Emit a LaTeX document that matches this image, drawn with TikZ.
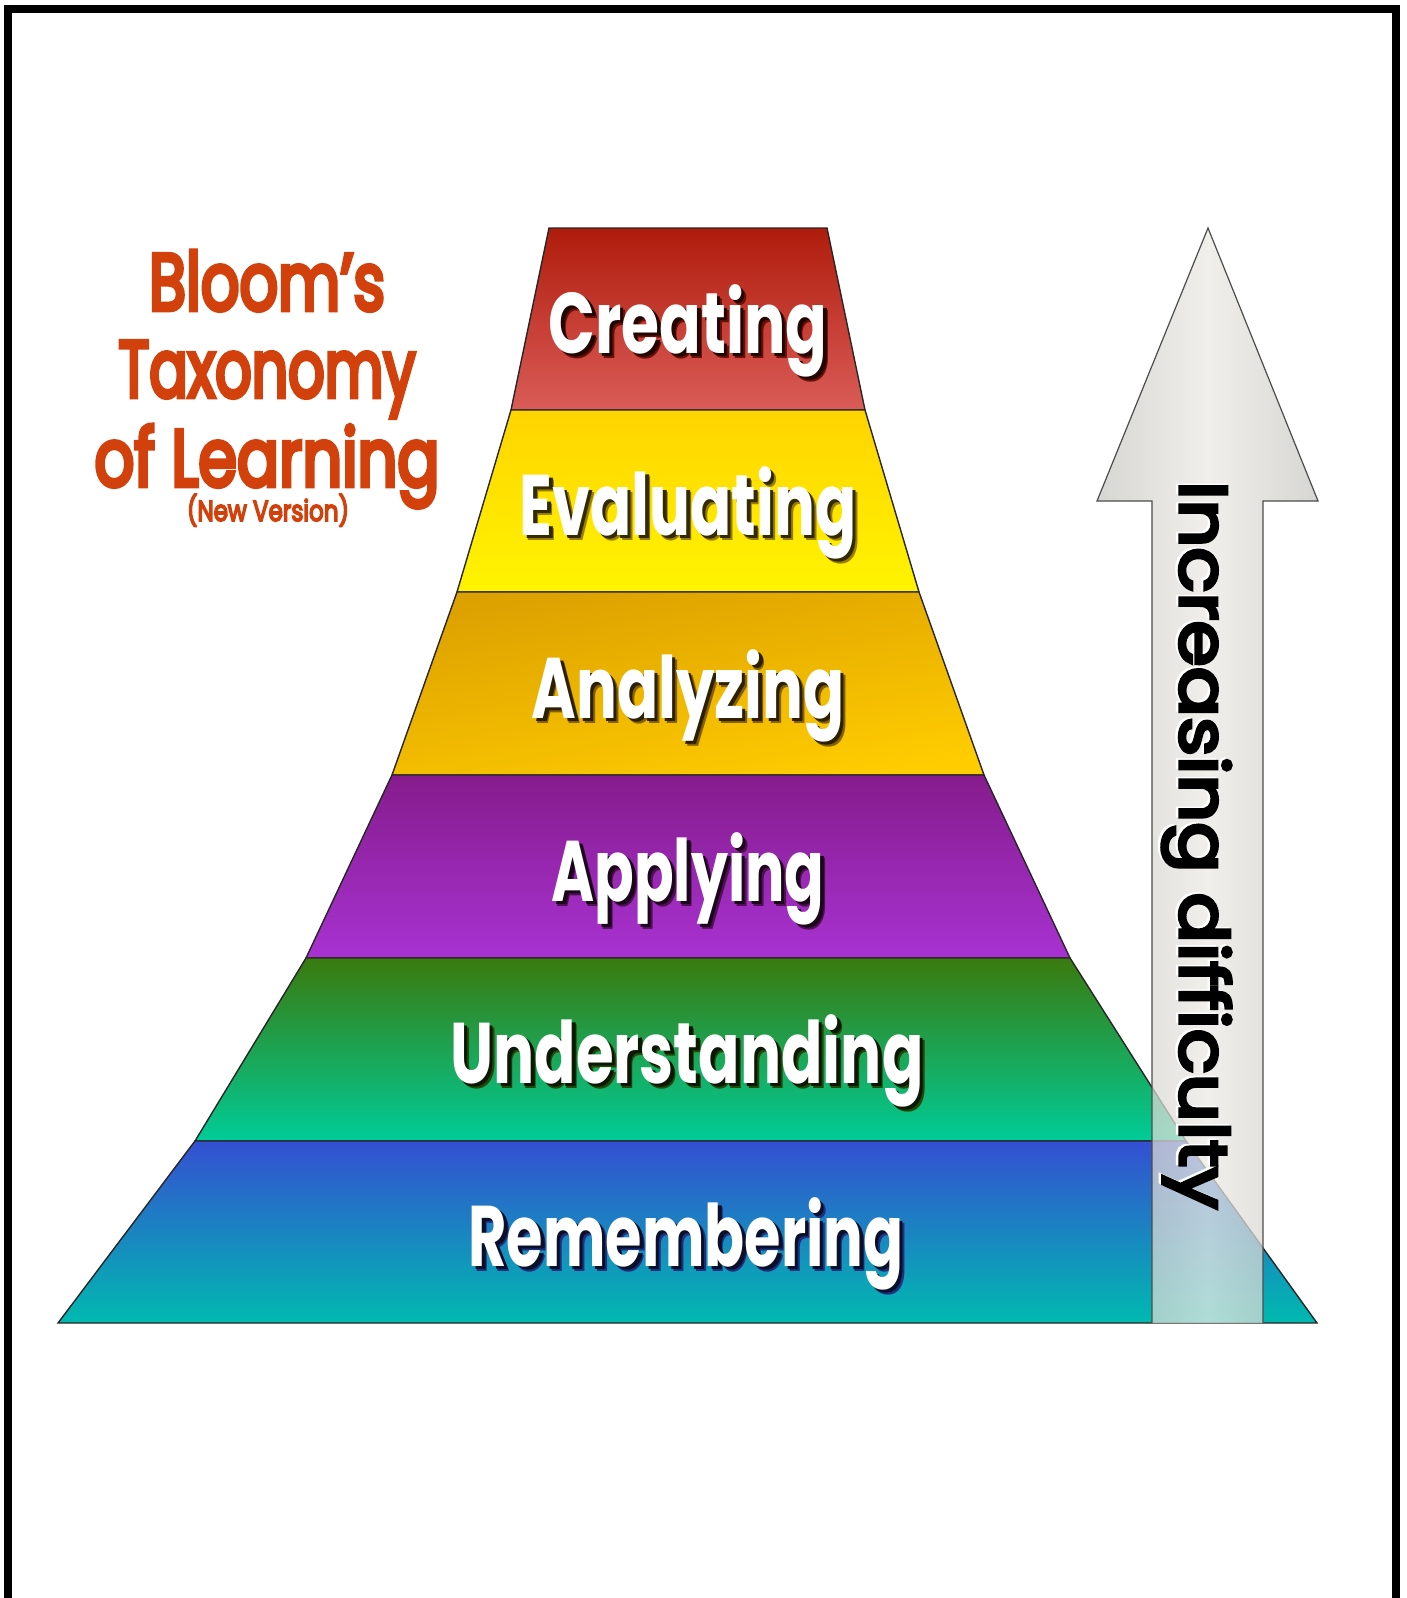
\documentclass[tikz,border=0pt]{standalone}
\usepackage{fontspec}
\setmainfont{Poppins}
\newfontfamily\ttlfont{Poppins}[FakeBold=6]
\newfontfamily\difffont{Poppins}[FakeBold=5]
\usepackage{graphicx}
\definecolor{titlered}{HTML}{D2400C}
\definecolor{cra}{HTML}{B01C0C}
\definecolor{crb}{HTML}{DA5C58}
\definecolor{eva}{HTML}{FFD400}
\definecolor{evb}{HTML}{FFF400}
\definecolor{ana}{HTML}{DCA000}
\definecolor{anb}{HTML}{FFCC00}
\definecolor{apa}{HTML}{861C8C}
\definecolor{apb}{HTML}{A832D2}
\definecolor{una}{HTML}{3A7A0E}
\definecolor{unb}{HTML}{00CC98}
\definecolor{rea}{HTML}{3450D2}
\definecolor{reb}{HTML}{00BAB0}
\definecolor{arrowedge}{HTML}{C8C8C4}
\definecolor{arrowmid}{HTML}{ECEAE4}
% white text with a soft dark drop shadow, in one box
\newcommand\shtext[3]{%
  \makebox[0pt][l]{\hspace*{5pt}\raisebox{-5pt}{\textcolor{black!40!#1}{\resizebox{#2pt}{\height}{#3}}}}%
  \makebox[0pt][l]{\hspace*{3.5pt}\raisebox{-3.5pt}{\textcolor{black!80!#1}{\resizebox{#2pt}{\height}{#3}}}}%
  \textcolor{white}{\resizebox{#2pt}{\height}{#3}}}
\begin{document}
\begin{tikzpicture}[x=1pt,y=-1pt,
  band/.style={draw=black!85, line width=1.4pt, shading angle=40},
  lab/.style={anchor=base, inner sep=0pt, font=\bfseries\fontsize{86}{90}\selectfont},
  ttl/.style={anchor=base, inner sep=0pt, text=titlered, font=\ttlfont\fontsize{80}{84}\selectfont},
  ttlsmall/.style={anchor=base, inner sep=0pt, text=titlered, font=\ttlfont\fontsize{29}{32}\selectfont},
  arrowbody/.style={left color=arrowedge, right color=arrowedge, middle color=arrowmid, fill opacity=0.74},
  arrowline/.style={draw=black!70, line width=1.2pt, line join=miter},
  difftext/.style={rotate=-90, anchor=base west, inner sep=0pt, text=black, font=\difffont\fontsize{67}{70}\selectfont},
]
\useasboundingbox (0,0) rectangle (1407,1598);
\fill[white] (0,0) rectangle (1407,1598);

% pyramid outline points
\coordinate (L0) at (549,228);  \coordinate (R0) at (827,228);
\coordinate (L1) at (511,410);  \coordinate (R1) at (865,410);
\coordinate (L2) at (457,592);  \coordinate (R2) at (919,592);
\coordinate (L3) at (392,775);  \coordinate (R3) at (984,775);
\coordinate (L4) at (306,958);  \coordinate (R4) at (1070,958);
\coordinate (L5) at (195,1141); \coordinate (R5) at (1186,1141);
\coordinate (L6) at (58,1323);  \coordinate (R6) at (1317,1323);

\shade[band, top color=cra, bottom color=crb] (L0) -- (R0) -- (R1) -- (L1) -- cycle;
\shade[band, top color=eva, bottom color=evb] (L1) -- (R1) -- (R2) -- (L2) -- cycle;
\shade[band, top color=ana, bottom color=anb, shading angle=10] (L2) -- (R2) -- (R3) -- (L3) -- cycle;
\shade[band, top color=apa, bottom color=apb] (L3) -- (R3) -- (R4) -- (L4) -- cycle;
\shade[band, top color=una, bottom color=unb] (L4) -- (R4) -- (R5) -- (L5) -- cycle;
\shade[band, top color=rea, bottom color=reb] (L5) -- (R5) -- (R6) -- (L6) -- cycle;

\node[lab] (creating)      at (688,353)  {\shtext{cra}{279}{Creating}};
\node[lab] (evaluating)    at (688,535)  {\shtext{eva}{337}{Evaluating}};
\node[lab] (analyzing)     at (688,718)  {\shtext{ana}{313}{Analyzing}};
\node[lab] (applying)      at (688,901)  {\shtext{apa}{273}{Applying}};
\node[lab] (understanding) at (687,1083) {\shtext{una}{473}{Understanding}};
\node[lab] (remembering)   at (686,1266) {\shtext{rea}{435}{Remembering}};

% title
\node[ttl] (t1) at (267,310) {\resizebox{236pt}{\height}{Bloom’s}};
\node[ttl] (t2) at (267,397) {\resizebox{297pt}{\height}{Taxonomy}};
\node[ttl] (t3) at (267,486) {\resizebox{345pt}{\height}{of Learning}};
\node[ttlsmall] (t4) at (268,521) {\resizebox{162pt}{\height}{(New Version)}};

% arrow
\coordinate (tip) at (1208,228);
\coordinate (sbl) at (1152,1323);
\coordinate (sbr) at (1263,1323);
\shade[arrowbody] (sbl) -- (1152,501) -- (1097,501) -- (tip) -- (1318,501) -- (1263,501) -- (sbr) -- cycle;
\draw[arrowline] (sbl) -- (1152,501) -- (1097,501) -- (tip) -- (1318,501) -- (1263,501) -- (sbr);
\node[difftext] (difficulty) at (1180,481) {%
  \makebox[0pt][l]{\hspace*{-1.5pt}\raisebox{-2.5pt}{\textcolor{white}{\resizebox{728pt}{\height}{Increasing difficulty}}}}%
  \resizebox{728pt}{\height}{Increasing difficulty}};

% frame
\draw[line width=8pt] (8,1700) -- (8,8.5) -- (1396,8.5) -- (1396,1700);
\end{tikzpicture}
\end{document}
